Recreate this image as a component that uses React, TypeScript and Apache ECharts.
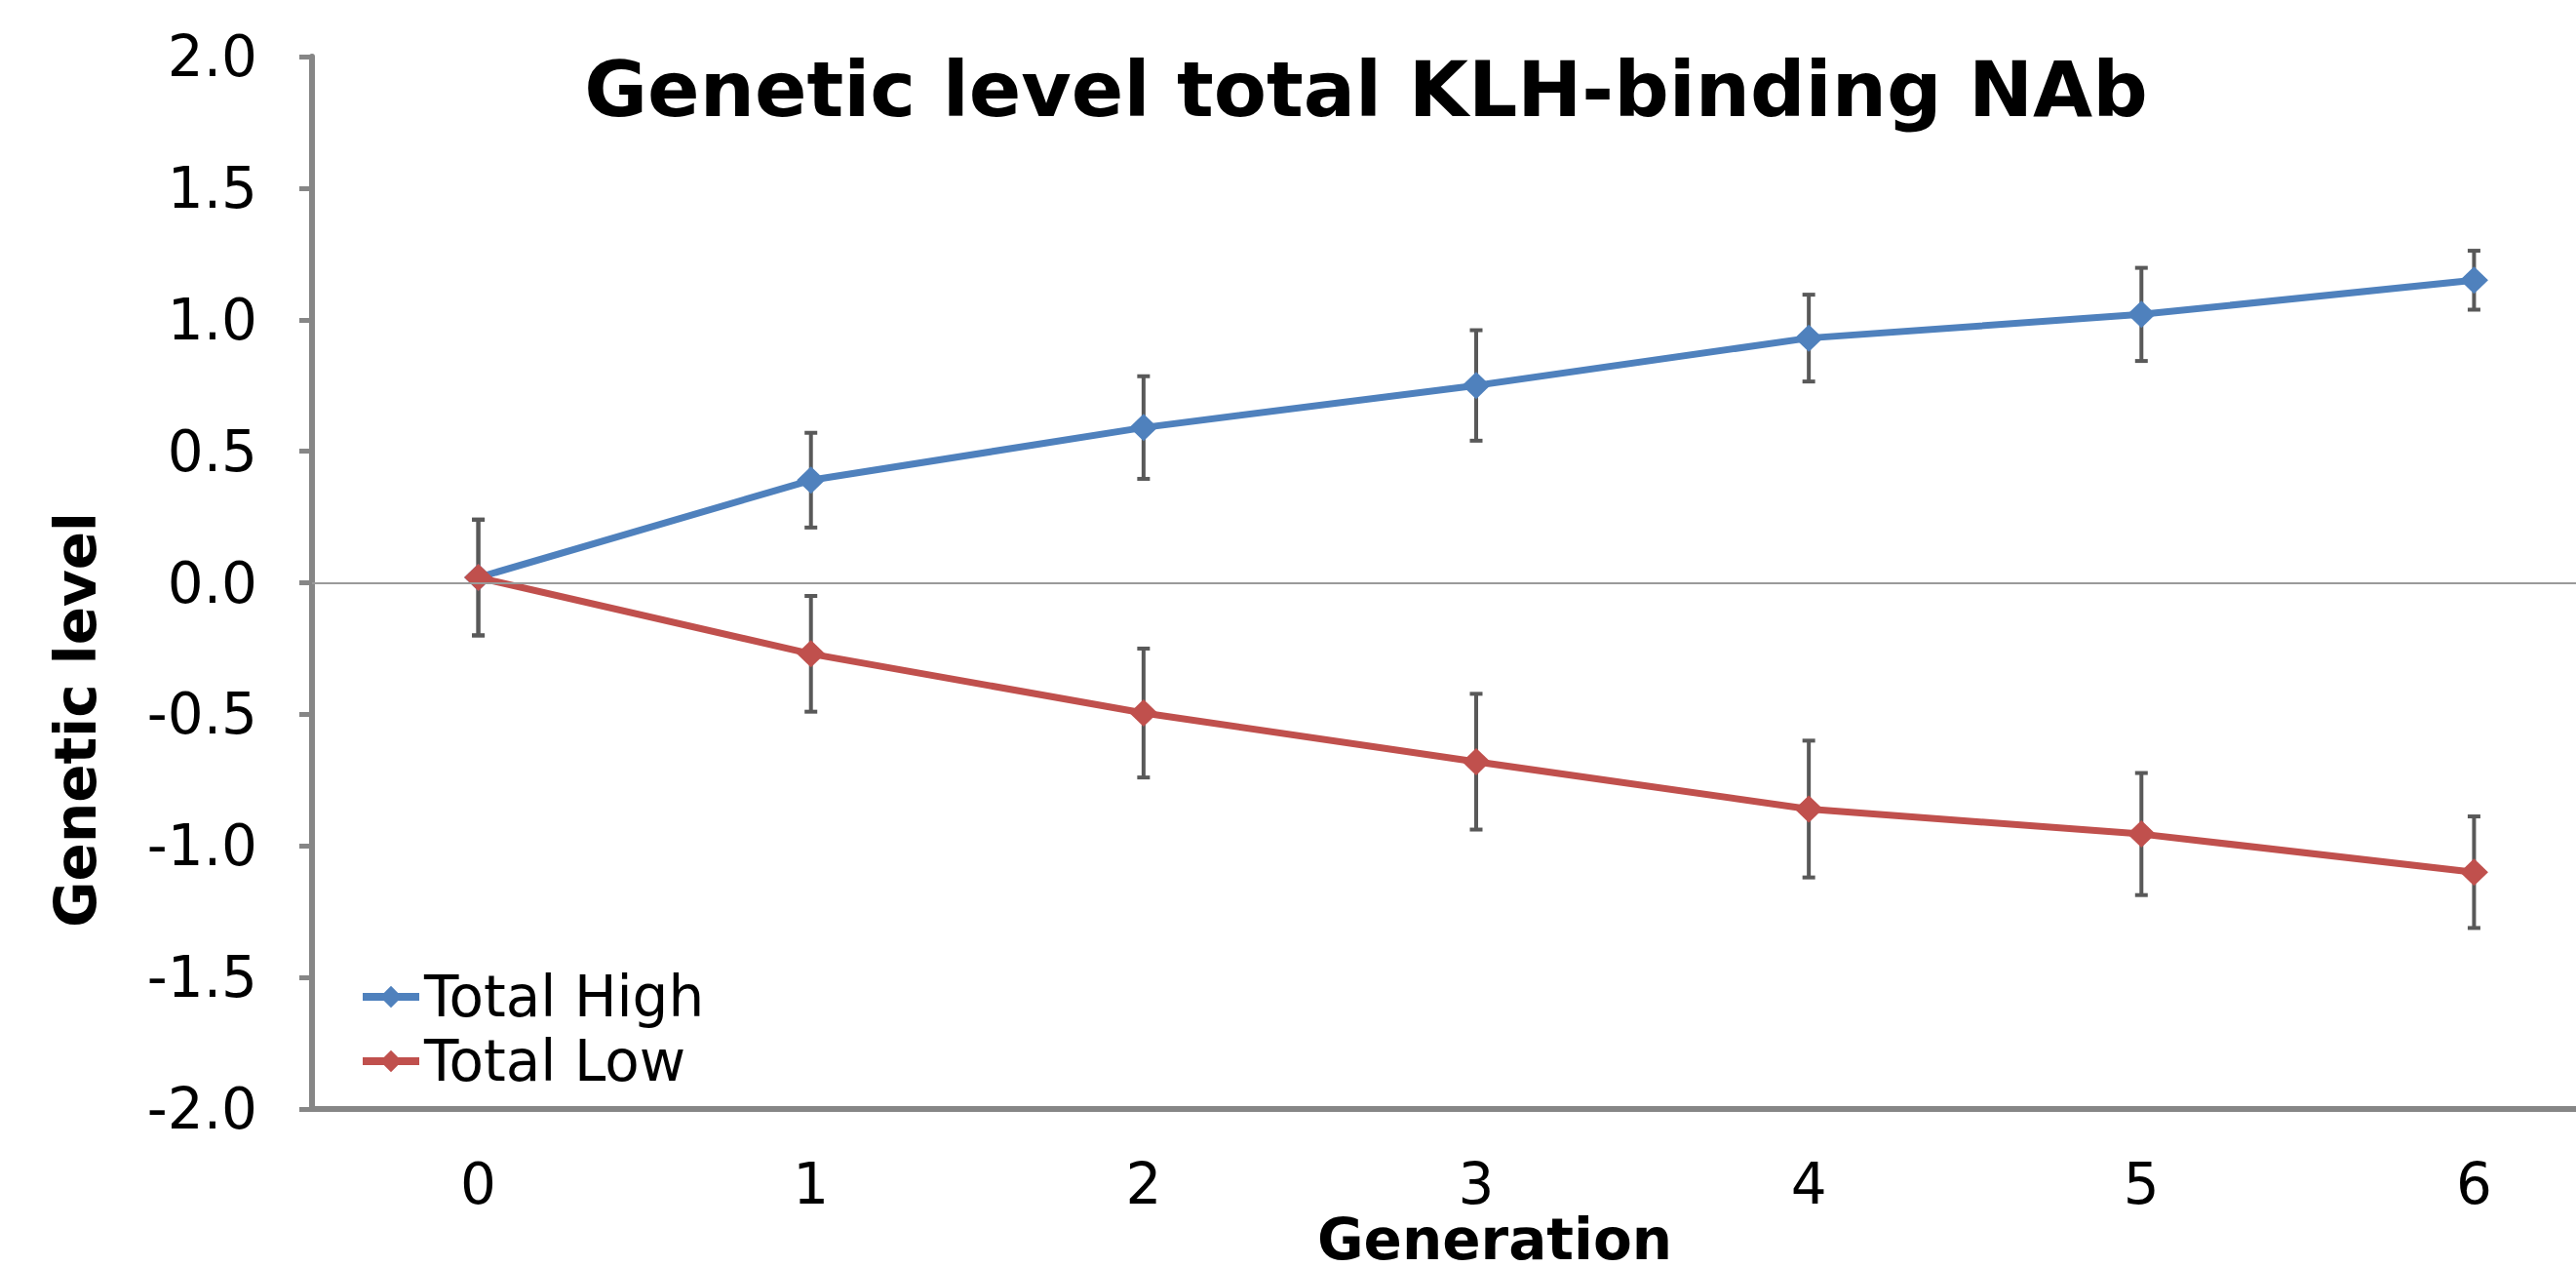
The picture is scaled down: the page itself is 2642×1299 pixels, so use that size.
import React, { useEffect, useRef } from "react";
import * as echarts from "echarts";

const generations = ["0", "1", "2", "3", "4", "5", "6"];
const highMean = [0.02, 0.39, 0.59, 0.75, 0.93, 1.02, 1.15];
const highErr = [0.22, 0.18, 0.195, 0.21, 0.165, 0.177, 0.112];
const lowMean = [0.02, -0.27, -0.495, -0.68, -0.86, -0.955, -1.1];
const lowErr = [0.22, 0.22, 0.245, 0.258, 0.26, 0.232, 0.212];
const yTicks = { min: -2, max: 2, step: 0.5 };

const titleText = "Genetic level total KLH-binding NAb";
const xName = "Generation";
const yName = "Genetic level";
const seriesNames = ["Total High", "Total Low"];

const FONT = "'DejaVu Sans', Verdana, sans-serif";
const AXIS = "#868686";

export default function App() {
  const ref = useRef<HTMLDivElement>(null);
  useEffect(() => {
    document.body.style.margin = "0";
    const chart = echarts.init(ref.current!, null, { renderer: "svg" });
    const errData = (means: number[], errs: number[]) =>
      means.map((m, i) => [i, m - errs[i], m + errs[i]]);
    const errSeries = (name: string, means: number[], errs: number[]) => ({
      type: "custom",
      name: name + " err",
      z: 2,
      silent: true,
      data: errData(means, errs),
      encode: { x: 0, y: [1, 2] },
      renderItem: (params: any, api: any) => {
        const x = api.value(0);
        const lo = api.coord([x, api.value(1)]);
        const hi = api.coord([x, api.value(2)]);
        const cap = 6.5;
        const style = { stroke: "#595959", lineWidth: 4 };
        return {
          type: "group",
          children: [
            { type: "line", shape: { x1: lo[0], y1: lo[1], x2: hi[0], y2: hi[1] }, style },
            { type: "line", shape: { x1: lo[0] - cap, y1: lo[1], x2: lo[0] + cap, y2: lo[1] }, style },
            { type: "line", shape: { x1: hi[0] - cap, y1: hi[1], x2: hi[0] + cap, y2: hi[1] }, style },
          ],
        };
      },
    });
    chart.setOption({
      animation: false,
      backgroundColor: "#ffffff",
      grid: {
        left: 320,
        top: 58,
        height: 1079,
        width: 2388,
        containLabel: false,
        outerBoundsMode: "none",
      },
      legend: {
        data: seriesNames,
        orient: "vertical",
        left: 363,
        top: 988,
        itemWidth: 58,
        itemHeight: 28,
        itemGap: 8,
        lineStyle: { width: 8 },
        textStyle: { fontFamily: FONT, fontSize: 58, color: "#000", lineHeight: 58 },
      },
      xAxis: {
        type: "category",
        data: generations,
        boundaryGap: true,
        axisLine: { onZero: false, lineStyle: { color: AXIS, width: 6 } },
        axisTick: { alignWithLabel: true, length: 14, lineStyle: { color: AXIS, width: 5 } },
        axisLabel: { fontFamily: FONT, fontSize: 58, lineHeight: 44, color: "#000", margin: 55 },
        splitLine: { show: false },
      },
      yAxis: {
        type: "value",
        min: yTicks.min,
        max: yTicks.max,
        interval: yTicks.step,
        axisLine: { show: true, onZero: false, lineStyle: { color: AXIS, width: 6 } },
        axisTick: { show: true, length: 13, lineStyle: { color: AXIS, width: 5 } },
        axisLabel: {
          fontFamily: FONT,
          fontSize: 58,
          color: "#000",
          margin: 56,
          formatter: (v: number) => v.toFixed(1),
        },
        splitLine: { show: false },
      },
      graphic: [
        {
          type: "text",
          x: 1401,
          y: 92,
          style: {
            text: titleText,
            font: `bold 79px ${FONT}`,
            fill: "#000",
            textAlign: "center",
            textVerticalAlign: "middle",
          },
        },
        {
          type: "text",
          x: 1533,
          y: 1271,
          style: {
            text: xName,
            font: `bold 58px ${FONT}`,
            lineHeight: 44,
            fill: "#000",
            textAlign: "center",
            textVerticalAlign: "middle",
          },
        },
        {
          type: "text",
          x: 78,
          y: 738,
          rotation: Math.PI / 2,
          style: {
            text: yName,
            font: `bold 58px ${FONT}`,
            fill: "#000",
            textAlign: "center",
            textVerticalAlign: "middle",
          },
        },
      ],
      series: [
        {
          type: "line",
          name: "zero",
          z: 1,
          data: generations.map(() => null),
          silent: true,
          markLine: {
            silent: true,
            symbol: "none",
            label: { show: false },
            lineStyle: { color: "#9a9a9a", width: 2, type: "solid" },
            data: [{ yAxis: 0 }],
          },
        },
        errSeries(seriesNames[0], highMean, highErr),
        errSeries(seriesNames[1], lowMean, lowErr),
        {
          type: "line",
          name: seriesNames[0],
          z: 3,
          data: highMean,
          symbol: "diamond",
          symbolSize: [29, 28],
          lineStyle: { color: "#4F81BD", width: 7 },
          itemStyle: { color: "#4F81BD" },
        },
        {
          type: "line",
          name: seriesNames[1],
          z: 4,
          data: lowMean,
          symbol: "diamond",
          symbolSize: [29, 28],
          lineStyle: { color: "#C0504D", width: 7 },
          itemStyle: { color: "#C0504D" },
        },
      ],
    });
    return () => chart.dispose();
  }, []);
  return <div ref={ref} style={{ width: 2642, height: 1299 }} />;
}
